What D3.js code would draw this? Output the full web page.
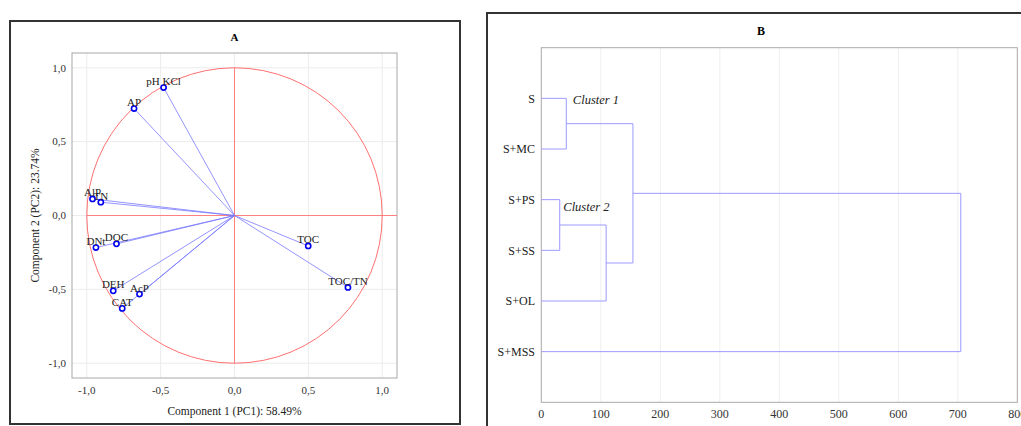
<!DOCTYPE html>
<html>
<head>
<meta charset="utf-8">
<script src="https://cdn.jsdelivr.net/npm/d3@7"></script>
<style>
  body { margin: 0; background: #fff; }
  svg { display: block; font-family: "Liberation Serif", "Times New Roman", serif; }
</style>
</head>
<body>
<div id="app"></div>
<script>
// PCA loadings (panel A)
const variables = ["pH KCl", "AP", "AlP", "TN", "DNt", "DOC", "DEH", "AcP", "CAT", "TOC", "TOC/TN"]
const pc1 = [-0.48, -0.68, -0.961, -0.905, -0.938, -0.799, -0.821, -0.643, -0.76, 0.499, 0.768]
const pc2 = [0.866, 0.724, 0.112, 0.09, -0.217, -0.192, -0.51, -0.532, -0.629, -0.206, -0.487]
const pcaTicks = [-1, -0.5, 0, 0.5, 1]

// dendrogram (panel B): leaves 0..5, merged nodes get ids 6, 7, ...
const samples = ["S", "S+MC", "S+PS", "S+SS", "S+OL", "S+MSS"]
const mergeA = [0, 2, 7, 6, 9]
const mergeB = [1, 3, 4, 8, 5]
const mergeHeight = [42, 31, 109, 154, 705]
const distTicks = [0, 100, 200, 300, 400, 500, 600, 700, 800]
const clusterNames = ["Cluster 1", "Cluster 2"]
const clusterX = [53, 37]
const clusterY = [1.12, 3.22]

const W = 1021, H = 426
const svg = d3.select('#app').append('svg').attr('width', W).attr('height', H)

const comma = d3.formatLocale({decimal: ",", thousands: ".", grouping: [3], currency: ["", ""], minus: "-"}).format(".1f")

// ---------- panel A ----------
svg.append('rect')
    .attr('x', 10).attr('y', 21).attr('width', 450).attr('height', 403)
    .attr('fill', 'none').attr('stroke', '#333').attr('stroke-width', 2)

const x = d3.scaleLinear().domain([-1.1, 1.1]).range([72, 397])
const y = d3.scaleLinear().domain([-1.1, 1.1]).range([378, 53])

const gA = svg.append('g')

gA.selectAll('.gx').data(pcaTicks).enter().append('line')
    .attr('x1', d => x(d)).attr('x2', d => x(d))
    .attr('y1', y(1.1)).attr('y2', y(-1.1))
    .attr('stroke', '#ececec')
gA.selectAll('.gy').data(pcaTicks).enter().append('line')
    .attr('y1', d => y(d)).attr('y2', d => y(d))
    .attr('x1', x(-1.1)).attr('x2', x(1.1))
    .attr('stroke', '#ececec')

gA.append('rect')
    .attr('x', x(-1.1)).attr('y', y(1.1))
    .attr('width', x(1.1) - x(-1.1)).attr('height', y(-1.1) - y(1.1))
    .attr('fill', 'none').attr('stroke', '#a8a8a8')

// red correlation circle and cross
gA.append('line')
    .attr('x1', x(-1)).attr('x2', x(1.1)).attr('y1', y(0)).attr('y2', y(0))
    .attr('stroke', '#ff8080')
gA.append('line')
    .attr('x1', x(0)).attr('x2', x(0)).attr('y1', y(1)).attr('y2', y(-1))
    .attr('stroke', '#ff8080')
gA.append('circle')
    .attr('cx', x(0)).attr('cy', y(0)).attr('r', x(1) - x(0))
    .attr('fill', 'none').attr('stroke', '#ff7070')

const idx = d3.range(variables.length)

gA.selectAll('.vec').data(idx).enter().append('line')
    .attr('x1', x(0)).attr('y1', y(0))
    .attr('x2', i => x(pc1[i])).attr('y2', i => y(pc2[i]))
    .attr('stroke', '#7878ff').attr('stroke-width', 0.8)

gA.selectAll('.pt').data(idx).enter().append('circle')
    .attr('cx', i => x(pc1[i])).attr('cy', i => y(pc2[i]))
    .attr('r', 2.6)
    .attr('fill', '#fff').attr('stroke', '#0000ee').attr('stroke-width', 1.6)

gA.selectAll('.lbl').data(idx).enter().append('text')
    .attr('x', i => x(pc1[i])).attr('y', i => y(pc2[i]) - 2.5)
    .attr('text-anchor', 'middle')
    .attr('font-size', 11).attr('fill', '#222')
    .text(i => variables[i])

gA.selectAll('.tx').data(pcaTicks).enter().append('text')
    .attr('x', d => x(d)).attr('y', 394)
    .attr('text-anchor', 'middle').attr('font-size', 11).attr('fill', '#333')
    .text(comma)
gA.selectAll('.ty').data(pcaTicks).enter().append('text')
    .attr('x', 66).attr('y', d => y(d)).attr('dy', '0.35em')
    .attr('text-anchor', 'end').attr('font-size', 11).attr('fill', '#333')
    .text(comma)

gA.append('text')
    .attr('x', x(0)).attr('y', 415)
    .attr('text-anchor', 'middle').attr('font-size', 11.5).attr('fill', '#222')
    .text('Component 1 (PC1): 58.49%')
gA.append('text')
    .attr('transform', `translate(39,${y(0)}) rotate(-90)`)
    .attr('text-anchor', 'middle').attr('font-size', 11.5).attr('fill', '#222')
    .text('Component 2 (PC2): 23.74%')
gA.append('text')
    .attr('x', x(0)).attr('y', 41)
    .attr('text-anchor', 'middle').attr('font-size', 11).attr('font-weight', 'bold')
    .text('A')

// ---------- panel B ----------
svg.append('rect')
    .attr('x', 487).attr('y', 13).attr('width', 600).attr('height', 500)
    .attr('fill', 'none').attr('stroke', '#333').attr('stroke-width', 2)

const xd = d3.scaleLinear().domain([0, 800]).range([541.3, 1017.3])
const yd = d3.scaleLinear().domain([0, 7]).range([47.7, 402.3])

const gB = svg.append('g')

gB.selectAll('.gd').data(distTicks.slice(1, -1)).enter().append('line')
    .attr('x1', d => xd(d)).attr('x2', d => xd(d))
    .attr('y1', yd(0)).attr('y2', yd(7))
    .attr('stroke', '#efefef')

gB.append('rect')
    .attr('x', xd(0)).attr('y', yd(0))
    .attr('width', xd(800) - xd(0)).attr('height', yd(7) - yd(0))
    .attr('fill', 'none').attr('stroke', '#a8a8a8')

// node positions: leaves at height 0, merges at their height, y = mean of children
const nodeH = samples.map(() => 0)
const nodeY = samples.map((s, i) => i + 1)
mergeA.forEach((a, k) => {
    nodeH.push(mergeHeight[k])
    nodeY.push((nodeY[a] + nodeY[mergeB[k]]) / 2)
})

gB.selectAll('.link').data(d3.range(mergeA.length)).enter().append('path')
    .attr('d', k => {
        const a = mergeA[k], b = mergeB[k], h = mergeHeight[k]
        return `M${xd(nodeH[a])},${yd(nodeY[a])}H${xd(h)}V${yd(nodeY[b])}H${xd(nodeH[b])}`
    })
    .attr('fill', 'none').attr('stroke', '#9a9aff').attr('stroke-width', 1)

gB.selectAll('.row').data(samples).enter().append('text')
    .attr('x', 535).attr('y', (d, i) => yd(i + 1)).attr('dy', '0.35em')
    .attr('text-anchor', 'end').attr('font-size', 12).attr('fill', '#222')
    .text(d => d)

gB.selectAll('.tdx').data(distTicks).enter().append('text')
    .attr('x', d => xd(d)).attr('y', 418)
    .attr('text-anchor', 'middle').attr('font-size', 12).attr('fill', '#333')
    .text(d => d)

gB.selectAll('.cl').data(clusterNames).enter().append('text')
    .attr('x', (d, i) => xd(clusterX[i])).attr('y', (d, i) => yd(clusterY[i]))
    .attr('font-size', 12.5).attr('font-style', 'italic').attr('fill', '#222')
    .text(d => d)

gB.append('text')
    .attr('x', 761).attr('y', 35)
    .attr('text-anchor', 'middle').attr('font-size', 12).attr('font-weight', 'bold')
    .text('B')
</script>
</body>
</html>
